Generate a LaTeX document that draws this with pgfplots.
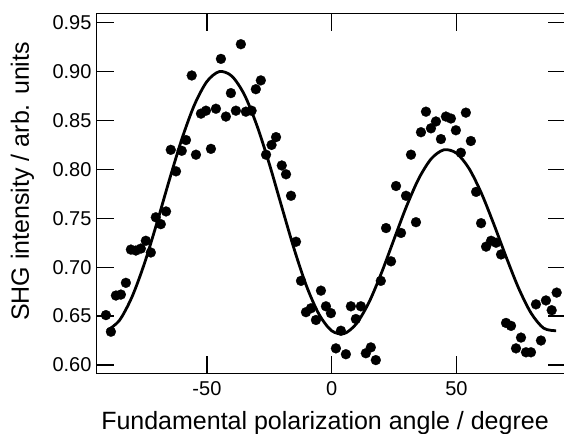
\documentclass[border=0pt]{standalone}
\usepackage{fontspec}
\setmainfont{Liberation Sans}
\usepackage{pgfplots}
\pgfplotsset{compat=1.18}

\begin{document}
\begin{tikzpicture}
\begin{axis}[
  name=ax,
  scale only axis,
  width=469.2bp, height=360bp,
  xmin=-94.2, xmax=93.9,
  ymin=0.5915, ymax=0.9596,
  xtick={-50,0,50}, xticklabels={-50,0,50},
  ytick={0.60,0.65,0.70,0.75,0.80,0.85,0.90,0.95},
  yticklabels={0.60,0.65,0.70,0.75,0.80,0.85,0.90,0.95},
  minor tick num=0,
  tick align=inside, tick pos=both,
  xticklabel pos=lower, yticklabel pos=left,
  major tick length=17.6bp,
  every tick/.style={black, line width=1.3bp},
  axis line style={line width=1.5bp},
  tick label style={font=\fontsize{20bp}{24bp}\selectfont},
  xticklabel style={yshift=-5bp},
  yticklabel style={xshift=-1.7bp},
  xlabel={Fundamental polarization angle / degree},
  ylabel={SHG intensity / arb. units},
  label style={font=\fontsize{25bp}{30bp}\selectfont},
  xlabel style={at={(axis description cs:0.4866,-0.1575)}, anchor=base},
  ylabel style={at={(axis description cs:-0.1443,0.533)}, anchor=base},
]

% measured points
\addplot[only marks, mark=*, mark size=5bp, black,
  mark options={fill=black, draw=black, line width=0.2pt}] coordinates {
  (-90.5,0.651) (-88.5,0.634) (-86.5,0.671) (-84.5,0.672) (-82.5,0.684)
  (-80.5,0.718) (-78.5,0.717) (-76.5,0.719) (-74.5,0.727) (-72.5,0.715)
  (-70.5,0.751) (-68.5,0.744) (-66.4,0.757) (-64.5,0.820) (-62.4,0.798)
  (-60.1,0.819) (-58.4,0.830) (-56.1,0.896) (-54.4,0.815) (-52.4,0.857)
  (-50.4,0.860) (-48.4,0.821) (-46.4,0.862) (-44.4,0.913) (-42.4,0.854)
  (-40.4,0.878) (-38.4,0.860) (-36.4,0.928) (-34.4,0.859) (-32.1,0.860)
  (-30.4,0.882) (-28.4,0.891) (-26.3,0.815) (-24.1,0.825) (-22.3,0.833)
  (-20.0,0.804) (-18.3,0.795) (-16.3,0.773) (-14.3,0.726) (-12.3,0.686)
  (-10.3,0.654) (-8.3,0.658) (-6.3,0.646) (-4.3,0.676) (-2.3,0.660)
  (-0.3,0.653) (1.7,0.617) (3.7,0.635) (5.7,0.611) (7.7,0.660)
  (9.7,0.647) (11.7,0.660) (13.7,0.612) (15.7,0.618) (17.7,0.605)
  (19.7,0.686) (21.8,0.740) (23.8,0.706) (25.8,0.783) (27.8,0.735)
  (29.8,0.773) (31.8,0.815) (33.8,0.746) (35.8,0.838) (37.8,0.859)
  (39.8,0.842) (41.8,0.849) (43.8,0.831) (45.8,0.854) (47.8,0.852)
  (49.8,0.840) (51.8,0.817) (53.8,0.858) (55.8,0.829) (57.9,0.777)
  (59.9,0.745) (61.9,0.721) (63.9,0.727) (65.9,0.725) (67.9,0.713)
  (69.9,0.643) (71.9,0.640) (73.9,0.617) (75.9,0.628) (77.9,0.613)
  (79.9,0.613) (81.9,0.662) (83.9,0.625) (85.9,0.666) (88.2,0.656)
  (90.2,0.674)
};

% fitted curve
\addplot[black, line width=2.8bp, smooth] coordinates {
  (-90,0.6350) (-85,0.6459) (-80,0.6699) (-75,0.7043) (-70,0.7458)
  (-65,0.7898) (-60,0.8315) (-55,0.8661) (-50,0.8899) (-45,0.9000)
  (-40,0.8953) (-35,0.8764) (-30,0.8451) (-25,0.8056) (-20,0.7616)
  (-15,0.7182) (-10,0.6801) (-5,0.6515) (0,0.6350) (5,0.6321)
  (10,0.6425) (15,0.6643) (20,0.6944) (25,0.7285) (30,0.7622)
  (35,0.7910) (40,0.8111) (45,0.8200) (50,0.8166) (55,0.8012)
  (60,0.7758) (65,0.7440) (70,0.7101) (75,0.6782) (80,0.6528)
  (85,0.6376) (90,0.6350)
};
\end{axis}
\pgfresetboundingbox
\path[use as bounding box] ([xshift=-96.7bp,yshift=-60.7bp]ax.south west)
  rectangle ([xshift=-1.9bp,yshift=13.3bp]ax.north east);
\end{tikzpicture}
\end{document}
